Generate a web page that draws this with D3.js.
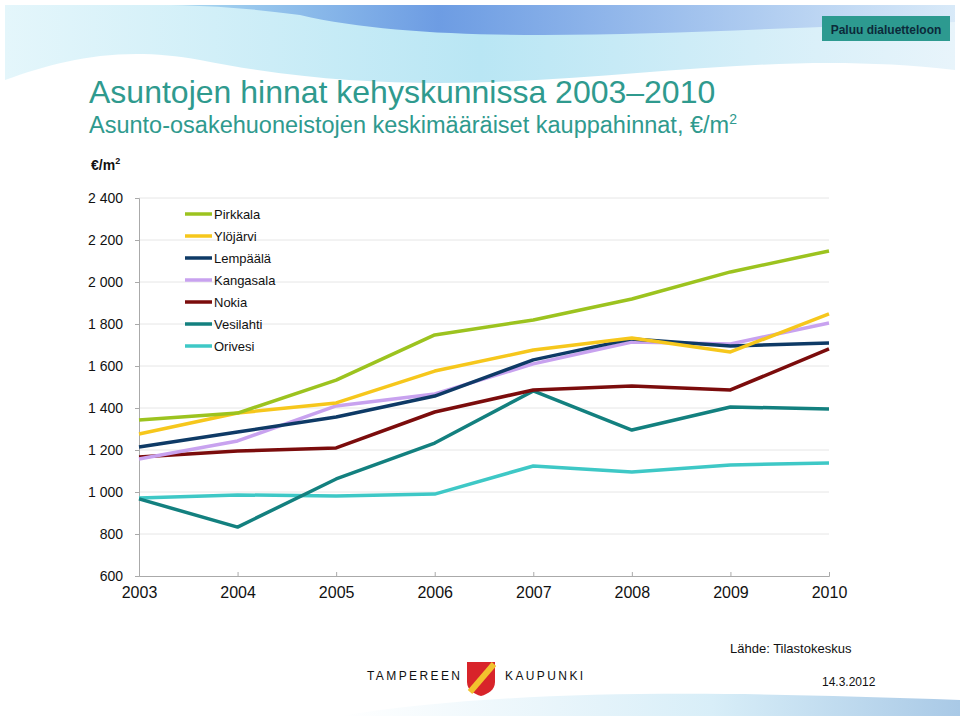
<!DOCTYPE html>
<meta charset="utf-8">
<style>
body { margin: 0; background: #fff; font-family: "Liberation Sans", Arial, sans-serif; }
</style>
<svg width="960" height="716"></svg>
<script src="https://d3js.org/d3.v7.min.js"></script>
<script>
var years = [2003, 2004, 2005, 2006, 2007, 2008, 2009, 2010];
var names = ["Pirkkala", "Ylöjärvi", "Lempäälä", "Kangasala", "Nokia", "Vesilahti", "Orivesi"];
var colors = ["#9cc31f", "#f6c71c", "#0e3a66", "#c8a2ef", "#7b0c0c", "#13807f", "#3ec8c6"];
var pirkkala = [1343, 1376, 1533, 1748, 1819, 1919, 2048, 2148];
var ylojarvi = [1276, 1376, 1424, 1576, 1676, 1733, 1667, 1848];
var lempaala = [1214, 1286, 1357, 1457, 1629, 1729, 1695, 1710];
var kangasala = [1157, 1243, 1410, 1467, 1610, 1714, 1705, 1805];
var nokia = [1167, 1195, 1210, 1381, 1486, 1505, 1486, 1681];
var vesilahti = [967, 833, 1062, 1233, 1481, 1295, 1405, 1395];
var orivesi = [971, 986, 981, 990, 1124, 1095, 1129, 1138];
var series = [pirkkala, ylojarvi, lempaala, kangasala, nokia, vesilahti, orivesi];
var yTicks = [600, 800, 1000, 1200, 1400, 1600, 1800, 2000, 2200, 2400];

var svg = d3.select("svg");
var defs = svg.append("defs");

// background swoosh at top
var g1 = defs.append("linearGradient").attr("id", "sw1").attr("x1", 0).attr("x2", 1);
g1.append("stop").attr("offset", "0").attr("stop-color", "#e4f6fb");
g1.append("stop").attr("offset", "0.5").attr("stop-color", "#b9e6f4");
g1.append("stop").attr("offset", "1").attr("stop-color", "#e8f4fb");
var g2 = defs.append("linearGradient").attr("id", "sw2").attr("x1", 0).attr("x2", 1);
g2.append("stop").attr("offset", "0").attr("stop-color", "#a5d8f0");
g2.append("stop").attr("offset", "0.35").attr("stop-color", "#5f8fe0");
g2.append("stop").attr("offset", "1").attr("stop-color", "#d6e8f8");
svg.append("path").attr("d", "M5,5 H955 V70 C700,40 500,120 200,60 C120,45 60,60 5,80 Z").attr("fill", "url(#sw1)");
svg.append("path").attr("d", "M160,5 H955 V22 C700,30 450,50 300,15 C250,8 200,5 160,5 Z").attr("fill", "url(#sw2)").attr("opacity", 0.85);
// bottom band
var g3 = defs.append("linearGradient").attr("id", "sw3").attr("x1", 0).attr("x2", 1);
g3.append("stop").attr("offset", "0").attr("stop-color", "#ffffff");
g3.append("stop").attr("offset", "0.6").attr("stop-color", "#d8eef8");
g3.append("stop").attr("offset", "1").attr("stop-color", "#a9c9e6");
svg.append("path").attr("d", "M340,716 C500,690 700,690 960,700 V716 Z").attr("fill", "url(#sw3)");

// button
svg.append("rect").attr("x", 822).attr("y", 16).attr("width", 128).attr("height", 25).attr("fill", "#2d9a90");
svg.append("text").attr("x", 886).attr("y", 34).attr("text-anchor", "middle").attr("font-size", 12)
  .attr("font-weight", "bold").attr("fill", "#0c2a3a").text("Paluu dialuetteloon");

// titles
svg.append("text").attr("x", 89).attr("y", 103).attr("font-size", 32).attr("fill", "#2f9a8e")
  .text("Asuntojen hinnat kehyskunnissa 2003–2010");
var st = svg.append("text").attr("x", 89).attr("y", 133).attr("font-size", 23.5).attr("fill", "#2f9a8e");
st.append("tspan").text("Asunto-osakehuoneistojen keskimääräiset kauppahinnat, €/m");
st.append("tspan").attr("font-size", 14).attr("dy", -9).text("2");
var ul = svg.append("text").attr("x", 91).attr("y", 170).attr("font-size", 14).attr("font-weight", "bold").attr("fill", "#111");
ul.append("tspan").text("€/m");
ul.append("tspan").attr("font-size", 9).attr("dy", -6).text("2");

// chart
var x = d3.scaleLinear().domain([2003, 2010]).range([139, 829]);
var y = d3.scaleLinear().domain([600, 2400]).range([576, 198]);

svg.append("g").selectAll("line").data(yTicks.slice(1)).join("line")
  .attr("x1", 139).attr("x2", 829).attr("y1", d => y(d)).attr("y2", d => y(d))
  .attr("stroke", "#e6e6e6");

var yAxis = svg.append("g").attr("transform", "translate(139,0)")
  .call(d3.axisLeft(y).tickValues(yTicks).tickSize(4).tickPadding(12)
    .tickFormat(d => d3.format(",")(d).replace(",", " ")));
yAxis.select(".domain").attr("stroke", "#aaa");
yAxis.selectAll(".tick line").attr("stroke", "#aaa");
yAxis.selectAll("text").attr("font-size", 14).attr("fill", "#111").attr("font-family", "Liberation Sans, Arial, sans-serif");

var xAxis = svg.append("g").attr("transform", "translate(0,576)")
  .call(d3.axisBottom(x).tickValues(years).tickFormat(d3.format("d")).tickSize(-4).tickPadding(11));
xAxis.select(".domain").attr("stroke", "#aaa");
xAxis.selectAll(".tick line").attr("stroke", "#aaa");
xAxis.selectAll("text").attr("font-size", 16).attr("fill", "#111").attr("font-family", "Liberation Sans, Arial, sans-serif");

var line = d3.line().x((d, i) => x(years[i])).y(d => y(d));
// draw bottom series first so Pirkkala sits on top
for (var k = series.length - 1; k >= 0; k--) {
  svg.append("path").datum(series[k]).attr("d", line).attr("fill", "none")
    .attr("stroke", colors[k]).attr("stroke-width", 3.5).attr("stroke-linejoin", "round");
}

// legend
var leg = svg.append("g").selectAll("g").data(names).join("g")
  .attr("transform", (d, i) => "translate(185," + (214 + i * 22) + ")");
leg.append("line").attr("x1", 0).attr("x2", 27).attr("stroke", (d, i) => colors[i]).attr("stroke-width", 3.5);
leg.append("text").attr("x", 29).attr("y", 5).attr("font-size", 13).attr("fill", "#111").text(d => d);

// footer
svg.append("text").attr("x", 730).attr("y", 653).attr("font-size", 13).attr("fill", "#111").text("Lähde: Tilastokeskus");
svg.append("text").attr("x", 822).attr("y", 686).attr("font-size", 12).attr("fill", "#111").text("14.3.2012");
svg.append("text").attr("x", 367).attr("y", 680).attr("font-size", 12).attr("letter-spacing", 2.4).attr("fill", "#111").text("TAMPEREEN");
svg.append("text").attr("x", 505).attr("y", 680).attr("font-size", 12).attr("letter-spacing", 2.4).attr("fill", "#111").text("KAUPUNKI");
// coat of arms
svg.append("path").attr("d", "M467,662 H495 V682 C495,690 488,694 481,696 C474,694 467,690 467,682 Z").attr("fill", "#d8242a");
svg.append("line").attr("x1", 470).attr("y1", 692).attr("x2", 494).attr("y2", 664).attr("stroke", "#f2c12e").attr("stroke-width", 6);
</script>
